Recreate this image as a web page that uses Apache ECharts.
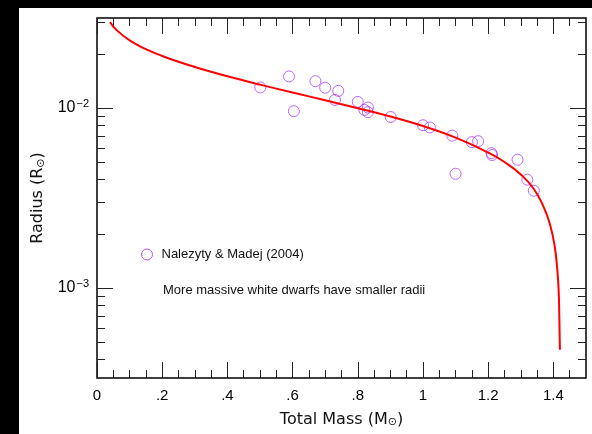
<!DOCTYPE html>
<html>
<head>
<meta charset="utf-8">
<script src="https://cdn.jsdelivr.net/npm/echarts@6/dist/echarts.min.js"></script>
<style>
  html, body { margin: 0; padding: 0; background: #000; width: 592px; height: 434px; overflow: hidden; }
  #chart { position: absolute; left: 19px; top: 8px; width: 573px; height: 426px; background: #fff; }
</style>
</head>
<body>
<div id="chart"></div>
<script>
// observed white dwarfs, total mass (Msun) and radius (Rsun)
const obsMass = [0.501, 0.589, 0.604, 0.670, 0.700, 0.740, 0.730, 0.800, 0.820, 0.831, 0.831, 0.901,
  1.000, 1.021, 1.090, 1.150, 1.169, 1.210, 1.212, 1.290, 1.100, 1.320, 1.340]
const obsRadius = [0.01301, 0.01498, 0.00960, 0.01409, 0.01297, 0.01245, 0.01109, 0.01081, 0.00976, 0.01006, 0.00948, 0.00891,
  0.00802, 0.00780, 0.00702, 0.00646, 0.00654, 0.00561, 0.00548, 0.00516, 0.00431, 0.00400, 0.00347]

// theoretical mass-radius curve
const curveMass = [0.040, 0.060, 0.100, 0.150, 0.200, 0.250, 0.300, 0.350, 0.400, 0.500, 0.600, 0.700,
  0.800, 0.900, 1.000, 1.100, 1.200, 1.250, 1.300, 1.340, 1.370, 1.390, 1.404, 1.412, 1.416, 1.418, 1.420]
const curveRadius = [0.03006, 0.02710, 0.02377, 0.02123, 0.01945, 0.01807, 0.01690, 0.01589, 0.01500, 0.01349, 0.01219, 0.01104,
  0.00998, 0.00897, 0.00794, 0.00684, 0.00565, 0.00501, 0.00427, 0.00355, 0.00282, 0.00224, 0.00170, 0.00126, 0.000977, 0.000724, 0.000454]

const xMajorTicks = [0, 0.2, 0.4, 0.6, 0.8, 1.0, 1.2, 1.4]
const xMinorTicks = [0.05, 0.1, 0.15, 0.25, 0.3, 0.35, 0.45, 0.5, 0.55, 0.65, 0.7, 0.75, 0.85, 0.9, 0.95,
  1.05, 1.1, 1.15, 1.25, 1.3, 1.35, 1.45]
const yMajorTicks = [1e-3, 1e-2]
const yMinorTicks = [4e-4, 5e-4, 6e-4, 7e-4, 8e-4, 9e-4, 2e-3, 3e-3, 4e-3, 5e-3, 6e-3, 7e-3, 8e-3, 9e-3, 2e-2, 3e-2]

const lg = v => Math.log10(v)
const zip = (a, b) => a.map((v, i) => [v, lg(b[i])])

const legendName = 'Nalezyty & Madej (2004)'
const axisFont = 'DejaVu Sans'
const labelFont = 'Liberation Sans'
const tickColor = '#222'
const purple = '#9a30ff'

function xAxisDef(pos, ticks, len, labels) {
  return {
    type: 'value', position: pos, min: 0, max: 1.5,
    axisLine: { show: false, onZero: false },
    splitLine: { show: false },
    axisTick: { show: true, inside: true, length: len, customValues: ticks, lineStyle: { color: tickColor, width: 1 } },
    axisLabel: labels ? {
      show: true, customValues: ticks, margin: 10,
      fontFamily: labelFont, fontSize: 15, color: '#000',
      formatter: v => v === 0 ? '0' : (Math.round(v * 10) / 10).toString().replace(/^0\./, '.')
    } : { show: false }
  }
}

function yAxisDef(pos, ticks, len, labels) {
  return {
    type: 'value', position: pos, min: -3.5, max: -1.5,
    axisLine: { show: false, onZero: false },
    splitLine: { show: false },
    axisTick: { show: true, inside: true, length: len, customValues: ticks.map(lg), lineStyle: { color: tickColor, width: 1 } },
    axisLabel: labels ? {
      show: true, customValues: ticks.map(lg), margin: 8,
      formatter: v => '{b|10}{s|−' + Math.abs(Math.round(v)) + '}',
      rich: {
        b: { fontFamily: labelFont, fontSize: 16, color: '#000', lineHeight: 16 },
        s: { fontFamily: labelFont, fontSize: 11, color: '#000', verticalAlign: 'top', padding: [0, 0, 9, 1] }
      }
    } : { show: false }
  }
}

const titleStyle = {
  fontFamily: axisFont, fontSize: 16, color: '#111',
  rich: { sub: { fontFamily: axisFont, fontSize: 11, color: '#111', verticalAlign: 'bottom', padding: [6, 0, 0, 0] } }
}

const xAxes = [
  xAxisDef('bottom', xMajorTicks, 16, true),
  xAxisDef('bottom', xMinorTicks, 8, false),
  xAxisDef('top', xMajorTicks, 16, false),
  xAxisDef('top', xMinorTicks, 8, false)
]
xAxes[0].name = 'Total Mass (M{sub|⊙})'
xAxes[0].nameLocation = 'middle'
xAxes[0].nameGap = 33
xAxes[0].nameTextStyle = titleStyle

const yAxes = [
  yAxisDef('left', yMajorTicks, 16, true),
  yAxisDef('left', yMinorTicks, 8, false),
  yAxisDef('right', yMajorTicks, 16, false),
  yAxisDef('right', yMinorTicks, 8, false)
]
yAxes[0].name = 'Radius (R{sub|⊙})'
yAxes[0].nameLocation = 'middle'
yAxes[0].nameGap = 49
yAxes[0].nameTextStyle = titleStyle

const chart = echarts.init(document.getElementById('chart'))
chart.setOption({
  animation: false,
  backgroundColor: '#fff',
  grid: { left: 78, top: 10, right: 6, bottom: 56, show: true, borderColor: '#000', borderWidth: 1.5, backgroundColor: 'transparent' },
  xAxis: xAxes,
  yAxis: yAxes,
  legend: {
    data: [{ name: legendName, icon: 'circle', itemStyle: { color: 'rgba(0,0,0,0)', borderColor: purple, borderWidth: 1 } }],
    left: 122, top: 240, padding: 0,
    itemWidth: 11, itemHeight: 11,
    textStyle: { fontFamily: labelFont, fontSize: 13, color: '#111', padding: [0, 0, 0, 4] }
  },
  graphic: [{
    type: 'text', x: 144, y: 282,
    style: { text: 'More massive white dwarfs have smaller radii', font: '13px "Liberation Sans"', fill: '#111', verticalAlign: 'middle' }
  }],
  series: [
    {
      type: 'line', name: 'curve', xAxisIndex: 0, yAxisIndex: 0,
      data: zip(curveMass, curveRadius),
      showSymbol: false, smooth: 0.5,
      lineStyle: { color: '#ff0000', width: 2 }
    },
    {
      type: 'scatter', name: legendName, xAxisIndex: 0, yAxisIndex: 0,
      data: zip(obsMass, obsRadius),
      symbol: 'circle', symbolSize: 11,
      itemStyle: { color: 'rgba(0,0,0,0)', borderColor: purple, borderWidth: 0.9 }
    }
  ]
})
</script>
</body>
</html>
